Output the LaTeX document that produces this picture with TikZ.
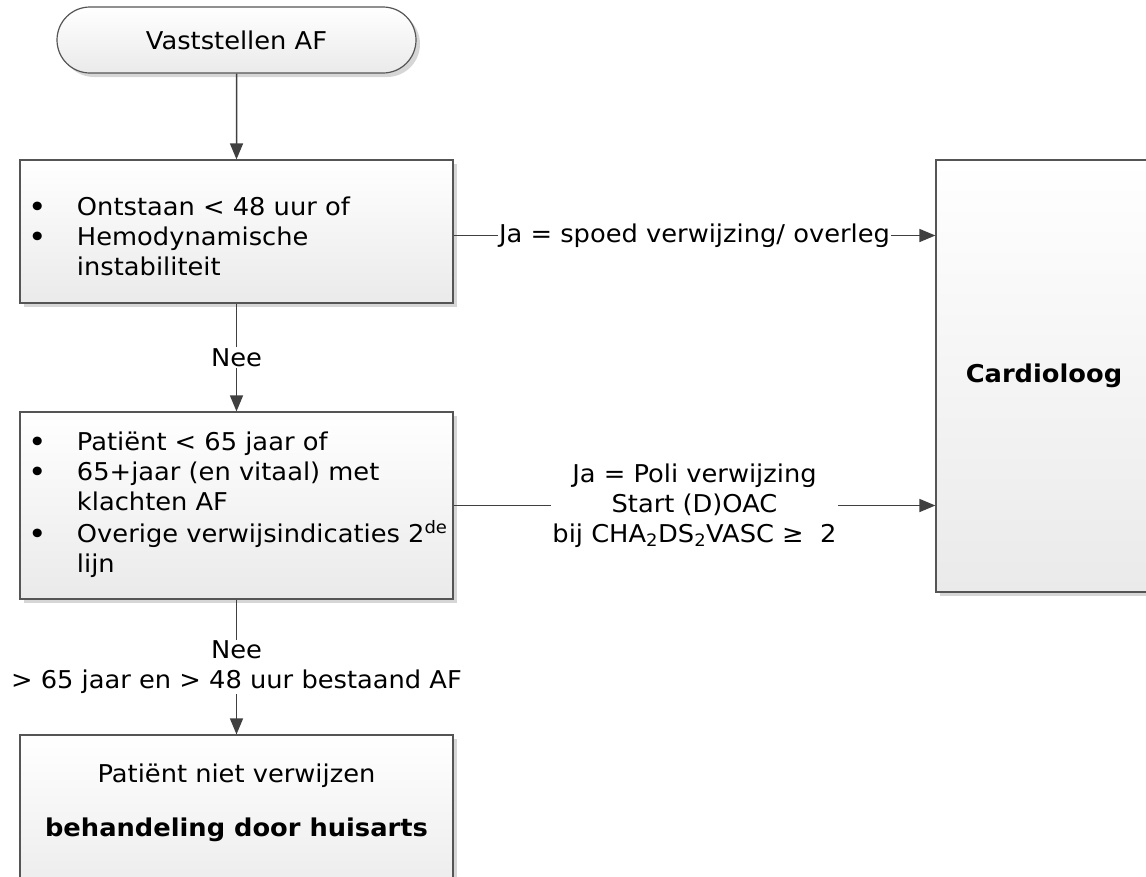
\documentclass[tikz,border=0pt]{standalone}
\usepackage{fontspec}
\setmainfont[FakeStretch=1.05]{DejaVu Sans}
\usetikzlibrary{arrows.meta,shadows,shapes.misc}
\definecolor{linecol}{HTML}{404040}
\definecolor{boxline}{HTML}{555555}
\definecolor{boxbot}{HTML}{EAEAEA}
\definecolor{shadowcol}{HTML}{D6D6D6}
\begin{document}
\begin{tikzpicture}[x=1pt,y=-1pt,
  font=\fontsize{24.5}{30}\selectfont,
  boxstyle/.style={draw=boxline, line width=1.2pt, top color=white, bottom color=boxbot,
    drop shadow={shadow xshift=4pt, shadow yshift=-4pt, fill=shadowcol, opacity=1}},
  listbox/.style={boxstyle, text width=415pt, inner xsep=9pt, inner ysep=0pt, align=left, minimum width=433pt},
  termstyle/.style={boxstyle, rounded rectangle, minimum width=359pt, minimum height=66pt, inner sep=0pt},
  arr/.style={draw=linecol, line width=1.5pt, -{Triangle[length=16pt,width=13pt]}},
  lbl/.style={fill=white, inner xsep=1.5pt, inner ysep=1pt, align=center}
]
\useasboundingbox (0,0) rectangle (1146,876);

\node[termstyle] (start) at (236.5,40) {Vaststellen AF};

\node[listbox, minimum height=143pt, text depth=54pt] (b1) at (236.5,231.5)
  {\begin{tabular}[t]{@{}p{48pt}@{}l@{}}
   \textbf{•} & Ontstaan < 48 uur of\\
   \textbf{•} & Hemodynamische\\
     & instabiliteit
   \end{tabular}};

\node[listbox, minimum height=187pt] (b2) at (236.5,505.5)
  {\begin{tabular}{@{}p{48pt}@{}l@{}}
   \textbf{•} & Patiënt < 65 jaar of\\
   \textbf{•} & 65+jaar (en vitaal) met\\
     & klachten AF\\
   \textbf{•} & Overige verwijsindicaties 2\textsuperscript{de}\\
     & lijn
   \end{tabular}};

\node[boxstyle, minimum width=216pt, minimum height=432pt, inner sep=0pt] (card) at (1044,376)
  {\textbf{Cardioloog}};

\node[boxstyle, minimum width=433pt, minimum height=170pt, inner sep=0pt] (b3) at (236.5,820) {};
\node[align=center, inner sep=0pt] (b3text) at (236.5,803)
  {Patiënt niet verwijzen\\[24pt]\textbf{behandeling door huisarts}};

\draw[arr] (start) -- (b1);
\draw[arr] (b1) -- node[lbl] {Nee} (b2);
\draw[arr] (b2) -- node[lbl] {Nee\\> 65 jaar en > 48 uur bestaand AF} (b3);
\draw[arr] (b1.east) ++(0,4) coordinate (j1) (j1) -- node[lbl] {Ja = spoed verwijzing/ overleg} (j1 -| card.west);
\draw[arr] (b2.east) -- node[lbl] {Ja = Poli verwijzing\\Start (D)OAC\\bij CHA\textsubscript{2}DS\textsubscript{2}VASC ≥\ \ 2} (b2.east -| card.west);
\end{tikzpicture}
\end{document}
